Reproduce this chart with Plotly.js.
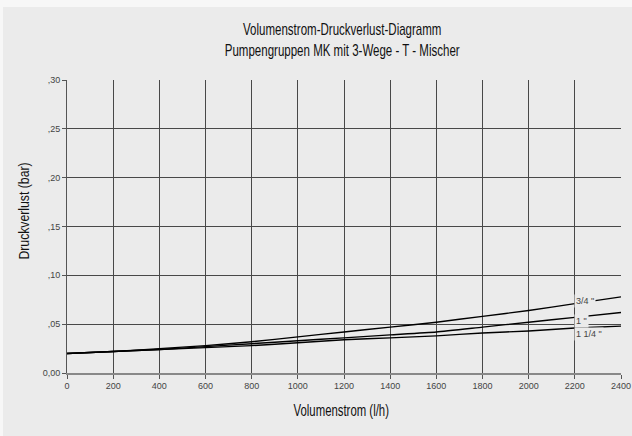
<!DOCTYPE html>
<html>
<head>
<meta charset="utf-8">
<script src="https://cdn.plot.ly/plotly-3.0.1.min.js"></script>
<style>
  html, body { margin: 0; padding: 0; background: #f7f7f7; width: 632px; height: 436px; overflow: hidden; }
  #chart { position: absolute; left: 3px; top: 7px; width: 629px; height: 429px; }
</style>
</head>
<body>
<div id="chart"></div>
<script>
// Data
const flow = [0, 200, 400, 600, 800, 1000, 1200, 1400, 1600, 1800, 2000, 2200, 2400];
const loss34 = [0.020, 0.022, 0.025, 0.028, 0.032, 0.037, 0.042, 0.047, 0.052, 0.058, 0.064, 0.071, 0.078];
const loss1 = [0.020, 0.022, 0.024, 0.027, 0.030, 0.033, 0.036, 0.039, 0.042, 0.047, 0.052, 0.057, 0.062];
const loss114 = [0.020, 0.022, 0.024, 0.026, 0.028, 0.031, 0.034, 0.036, 0.038, 0.041, 0.043, 0.046, 0.048];
const seriesNames = ['3/4 "', '1 "', '1 1/4 "'];
const xTicks = [0, 200, 400, 600, 800, 1000, 1200, 1400, 1600, 1800, 2000, 2200, 2400];
const yTicks = [0, 0.05, 0.10, 0.15, 0.20, 0.25, 0.30];
const yTickText = ['0,00', ',05', ',10', ',15', ',20', ',25', ',30'];
const titleText = 'Volumenstrom-Druckverlust-Diagramm<br>Pumpengruppen MK mit 3-Wege - T - Mischer';
const xTitleText = 'Volumenstrom (l/h)';
const yTitleText = 'Druckverlust (bar)';
const labelAt = 2200;

const narrow = '"Liberation Sans", Arial, sans-serif';
const tickFont = { family: '"Liberation Sans", Arial, sans-serif', size: 9, color: '#444' };
const series = [loss34, loss1, loss114];

const traces = series.map((ys, i) => ({
  x: flow, y: ys, type: 'scatter', mode: 'lines', name: seriesNames[i],
  line: { color: '#000', width: 1.4, shape: 'spline', smoothing: 0.5 },
  hoverinfo: 'skip'
}));

const labelYOffsets = [0.0025, -0.0035, -0.0065];
const annotations = series.map((ys, i) => ({
  x: labelAt, y: ys[flow.indexOf(labelAt)] + labelYOffsets[i],
  xref: 'x', yref: 'y', text: seriesNames[i], showarrow: false,
  xanchor: 'left', yanchor: 'middle', xshift: -1,
  bgcolor: '#ebebeb', borderpad: 1,
  font: tickFont
}));

// Titles as annotations so they can be drawn condensed
annotations.push({
  xref: 'paper', yref: 'paper', x: 0.497, y: 1.135, xanchor: 'center', yanchor: 'middle',
  text: titleText, showarrow: false, font: { family: narrow, size: 16, color: '#111' }
});
annotations.push({
  xref: 'paper', yref: 'paper', x: 0.495, y: -0.125, xanchor: 'center', yanchor: 'middle',
  text: xTitleText, showarrow: false, font: { family: narrow, size: 16.5, color: '#111' }
});
annotations.push({
  xref: 'paper', yref: 'paper', x: -0.0776, y: 0.551, xanchor: 'center', yanchor: 'middle',
  text: yTitleText, textangle: -90, showarrow: false, font: { family: narrow, size: 15.5, color: '#111' }
});

const layout = {
  width: 629, height: 429,
  paper_bgcolor: '#ebebeb', plot_bgcolor: '#ebebeb',
  margin: { l: 64, r: 11, t: 73, b: 63 },
  showlegend: false,
  xaxis: {
    range: [0, 2400], tickvals: xTicks, ticktext: xTicks.map(String),
    showgrid: true, gridcolor: '#484848', gridwidth: 1,
    zeroline: false, showline: true, linecolor: '#888', linewidth: 1.5,
    ticks: 'outside', ticklen: 4, tickcolor: '#555',
    tickfont: tickFont, fixedrange: true
  },
  yaxis: {
    range: [0, 0.30], tickvals: yTicks, ticktext: yTickText,
    showgrid: true, gridcolor: '#484848', gridwidth: 1,
    zeroline: false, showline: true, linecolor: '#555', linewidth: 1,
    ticks: 'outside', ticklen: 4, tickcolor: '#555',
    tickfont: tickFont, fixedrange: true
  },
  annotations: annotations
};

const condenseScale = { 'Volumenstrom-Druckverlust-Diagramm': 0.72, 'Volumenstrom (l/h)': 0.69, 'Druckverlust (bar)': 0.79 };

Plotly.newPlot('chart', traces, layout, { displayModeBar: false, staticPlot: true }).then(() => {
  document.querySelectorAll('#chart .annotation-text').forEach(t => {
    const txt = t.textContent;
    let s = null;
    Object.keys(condenseScale).forEach(k => { if (txt.indexOf(k) === 0) s = condenseScale[k]; });
    if (s) {
      t.style.transformBox = 'fill-box';
      t.style.transformOrigin = 'center';
      t.style.transform = 'scaleX(' + s + ')';
    }
  });
});
</script>
</body>
</html>
